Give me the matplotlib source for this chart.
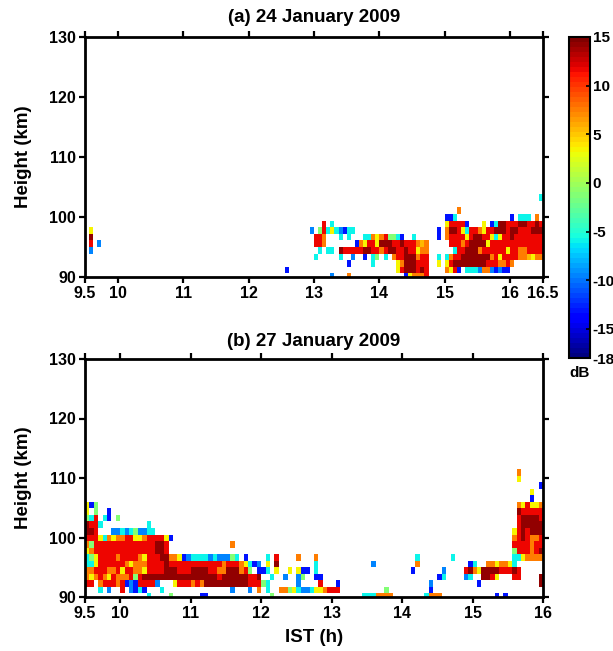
import numpy as np
import matplotlib
matplotlib.use("Agg")
import matplotlib.pyplot as plt

plt.rcParams['font.family'] = ['Liberation Sans', 'DejaVu Sans']
plt.rcParams['font.weight'] = 'bold'
plt.rcParams['axes.unicode_minus'] = False

# ---- data -------------------------------------------------------------
# echo power codes (dB) used in the cell rows below
DB_CODES = {'K': 14.0, 'R': 11.5, 'r': 9.5, 'O': 7.5, 'o': 5.5, 'Y': 3.5,
            'y': 1.5, 'G': -1.5, 'g': -4.0, 'C': -6.0, 'L': -9.5,
            'B': -13.0, 'N': -16.5}

T_START = 9.5          # IST (h) of first column
T_STEP = 1.0 / 16.0    # h per column
H_START = 89.5         # km, bottom of first row
H_STEP = 1.1           # km per row

A_NCOL, A_NROW = 112, 13
B_NCOL, B_NROW = 104, 20

# panel (a) 24 January 2009: row -> [(first column, codes)]
A_ROWS = {
    12: [(111, "C")],
    10: [(91, "O")],
    9: [(88, "BBC"), (104, "B.CCC.O")],
    8: [(58, "R.C"), (88, "YRRRRB...Y.BCKKRRRKKRRKR")],
    7: [(1, "Y"), (55, "L.GRCYCLBCC"), (86, "B.OKKRYCRROYRRKKKRKKRRRKKK")],
    6: [(1, "K"), (56, "RRO...C.C...CCOYORGGCB..C"),
        (86, "B.ORRRRYRKKRRYCYRRKRRRRRRR")],
    5: [(1, "R"), (3, "L"), (56, "RRO.......BOYRRYKKKRRKRRROoO"),
        (89, "RRRORKKKKYRRRRRRRRRRRRR")],
    4: [(1, "L"), (57, "C.CC.KRRRRRKKRRORKKRRKRRYOO"),
        (90, "CRRKKKORRRRRRYRROORRRR")],
    3: [(56, "C.....C..L..B.CG.C.ORRKKKORR"),
        (86, "C.CORRKKKKKKKORYRRRROOoYOO")],
    2: [(64, "B"), (70, "C"), (76, "YOKKKRRR"), (86, "Y.YRKKKKKKKKRRROORO")],
    1: [(49, "B"), (76, "YRKKKRKR"), (88, "OYRB.CCCLOOLBLBB")],
    0: [(60, "L"), (64, "O"), (78, "BYOOOR")],
}

# panel (b) 27 January 2009
B_ROWS = {
    19: [(98, "O")],
    18: [(98, "Y")],
    17: [(103, "B")],
    16: [(101, "Y")],
    15: [(101, "B")],
    14: [(0, "YBG"), (98, "OYRYYO")],
    13: [(0, "Y.G..B"), (98, "KRRRRR")],
    12: [(0, "GCR.CB.G"), (98, "RKKKKR")],
    11: [(0, "KRRC"), (14, "C"), (98, "RKKKKK")],
    10: [(0, "KKR...LLCLCGLLCC"), (97, "YRKRKKK")],
    9: [(0, "RRRYCOYOORRYYORRRRYB"), (97, "ORKROOR")],
    8: [(0, "OGRRRRRRRRRRRRRRKKR"), (33, "O"), (97, "RRRRORR")],
    7: [(0, "YORRRRRRRRRRRRRRKKR"), (97, "GRRRORK")],
    6: [(0, "CGYRRRRORRRROYRRRKK"), (19, "OOYBLCC"), (26, "CCLCLLLGC.B"),
        (41, "C.R"), (48, "O"), (52, "O"), (75, "C"), (83, "C"),
        (97, "CCYOOOO")],
    5: [(0, "CCYRRRRRROYOOORRRRK"), (19, "RRRRRRR"),
        (26, "RRRRRORRROYCBL.Y.K"), (52, "C"), (65, "L"), (75, "O"),
        (87, "BC"), (91, "OOYOOYC")],
    4: [(0, "OORRROORYRROOYRRRRK"), (19, "KKRRRKK"),
        (26, "KKRROOKKKORG.BBC.Y..Y.YBB.C"), (74, "B"), (81, "L"),
        (86, "RKOYKKKKRRRKR")],
    3: [(0, "OYOROYROOORGRKKKKKK"), (19, "KKKKKKK"),
        (26, "KKKKRKKKKKKRRK..C..L..LG..BB"), (80, "BC"),
        (86, "LC..KKRY...RR"), (103, "K")],
    2: [(0, "RR.ORRRORBLBRRRRL.."), (20, "YRRROR"),
        (26, "OKKKKKKKKKKRRRGC......L....R...B"), (78, "L"), (89, "B"),
        (103, "K")],
    1: [(3, "C.L..R.LBCB...C"), (33, "L...L.O.C..OOGYCLLCYYORRR"),
        (68, "G"), (78, "B")],
    0: [(14, "C"), (19, "G"), (26, "BB"), (42, "G"), (63, "CCCO"),
        (67, "OOO"), (77, "COOO"), (93, "B"), (95, "B")],
}

A_XTICKS = [9.5, 10, 11, 12, 13, 14, 15, 16, 16.5]
A_XLABELS = ["9.5", "10", "11", "12", "13", "14", "15", "16", "16.5"]
B_XTICKS = [9.5, 10, 11, 12, 13, 14, 15, 16]
B_XLABELS = ["9.5", "10", "11", "12", "13", "14", "15", "16"]
Y_TICKS = [90, 100, 110, 120, 130]
CB_TICKS = [15, 10, 5, 0, -5, -10, -15, -18]
DB_MIN, DB_MAX = -18, 15


def build(rows, nrow, ncol):
    g = np.full((nrow, ncol), np.nan)
    for r, segs in rows.items():
        for c0, s in segs:
            for i, ch in enumerate(s):
                if ch in DB_CODES:
                    g[r, c0 + i] = DB_CODES[ch]
    return np.ma.masked_invalid(g)


W, H = 613, 651
fig = plt.figure(figsize=(W / 100, H / 100), dpi=100)


def px_axes(x0, y0, x1, y1):
    return fig.add_axes([x0 / W, 1 - y1 / H, (x1 - x0) / W, (y1 - y0) / H])


cmap = plt.get_cmap('jet', 64)

ax_a = px_axes(85, 37, 543, 277)
ax_b = px_axes(85, 359, 543, 597)
cax = px_axes(569, 37, 590, 358)

panels = [
    (ax_a, A_ROWS, A_NROW, A_NCOL, A_XTICKS, A_XLABELS, 16.5),
    (ax_b, B_ROWS, B_NROW, B_NCOL, B_XTICKS, B_XLABELS, 16.0),
]
mesh = None
for ax, rows, nrow, ncol, xt, xl, tmax in panels:
    grid = build(rows, nrow, ncol)
    te = T_START + T_STEP * np.arange(ncol + 1)
    he = H_START + H_STEP * np.arange(nrow + 1)
    mesh = ax.pcolormesh(te, he, grid, cmap=cmap, vmin=DB_MIN, vmax=DB_MAX,
                         shading='flat')
    ax.set_xlim(T_START, tmax)
    ax.set_ylim(90, 130)
    ax.set_xticks(xt)
    ax.set_xticklabels(xl)
    ax.set_yticks(Y_TICKS)
    ax.tick_params(direction='out', length=4, width=1.6, top=True,
                   right=True, labelsize=11.5, pad=2.5)
    for sp in ax.spines.values():
        sp.set_linewidth(2)

cb = fig.colorbar(mesh, cax=cax, ticks=CB_TICKS)
cb.outline.set_linewidth(1.5)
cax.tick_params(labelsize=11, length=3, width=1.2, direction='in', pad=2)
cax.set_yticklabels([str(v) for v in CB_TICKS])


def ftext(x, y, s, **kw):
    fig.text(x / W, 1 - y / H, s, ha='center', va='center',
             fontweight='bold', **kw)


ftext(314, 18, "(a) 24 January 2009", fontsize=13.5)
ftext(314, 341, "(b) 27 January 2009", fontsize=13.5)
ftext(24, 157, "Height (km)", fontsize=13.5, rotation=90)
ftext(24, 478, "Height (km)", fontsize=13.5, rotation=90)
ftext(314, 637, "IST (h)", fontsize=13.5)
ftext(580, 373, "dB", fontsize=11)

fig.savefig("out.png", dpi=100)
